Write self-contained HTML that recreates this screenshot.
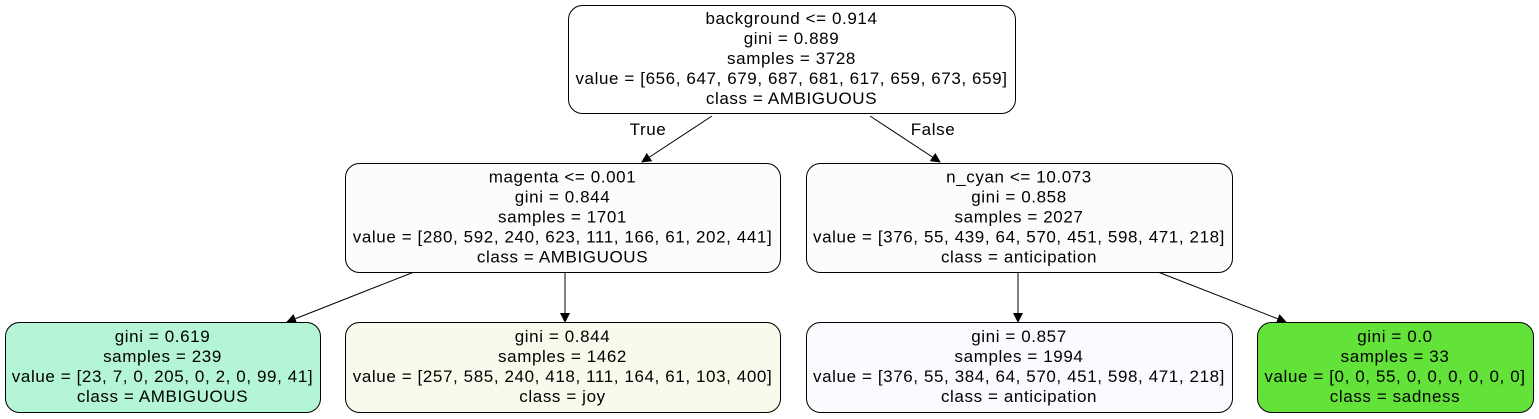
<!DOCTYPE html>
<html><head><meta charset="utf-8"><style>
html,body{margin:0;padding:0;background:#fff;}
svg{display:block;font-family:"Liberation Sans",Helvetica,Arial,sans-serif;}
svg text{letter-spacing:0.6px;}
</style></head><body>
<svg id="tree" width="1539" height="419" viewBox="0 0 1539 419">
<defs><marker id="ah" markerWidth="10" markerHeight="10" refX="9" refY="5" orient="auto" markerUnits="userSpaceOnUse"><path d="M0,0 L10,5 L0,10 z" fill="#000"/></marker></defs>
</svg>
<script>
const nodeNames=['root-node','magenta-node','n-cyan-node','leaf-ambiguous','leaf-joy','leaf-anticipation','leaf-sadness'];
const nodeBoxes=[[568,5,447,108],[345,163,435,109],[806,163,426,109],[5,322,315,90],[345,322,435,90],[806,322,426,90],[1257,322,276,90]];
const nodeFills=['#ffffff','#fbfdfc','#fcfcff','#b3f5d4','#f9faeb','#fbfbff','#63e33a'];
const nodeTexts=[
["background <= 0.914","gini = 0.889","samples = 3728","value = [656, 647, 679, 687, 681, 617, 659, 673, 659]","class = AMBIGUOUS"],
["magenta <= 0.001","gini = 0.844","samples = 1701","value = [280, 592, 240, 623, 111, 166, 61, 202, 441]","class = AMBIGUOUS"],
["n_cyan <= 10.073","gini = 0.858","samples = 2027","value = [376, 55, 439, 64, 570, 451, 598, 471, 218]","class = anticipation"],
["gini = 0.619","samples = 239","value = [23, 7, 0, 205, 0, 2, 0, 99, 41]","class = AMBIGUOUS"],
["gini = 0.844","samples = 1462","value = [257, 585, 240, 418, 111, 164, 61, 103, 400]","class = joy"],
["gini = 0.857","samples = 1994","value = [376, 55, 384, 64, 570, 451, 598, 471, 218]","class = anticipation"],
["gini = 0.0","samples = 33","value = [0, 0, 55, 0, 0, 0, 0, 0, 0]","class = sadness"]];
const edges=[[0,1,712,116,642,162],[0,2,870,116,940,162],[1,3,414,272,287,322],[1,4,565,272,565,322],[2,5,1018,272,1018,322],[2,6,1158,272,1286,322]];
const NS='http://www.w3.org/2000/svg';
const svg=document.getElementById('tree');
edges.forEach(e=>{
 const l=document.createElementNS(NS,'line');
 l.setAttribute('x1',e[2]);l.setAttribute('y1',e[3]);l.setAttribute('x2',e[4]);l.setAttribute('y2',e[5]);
 l.setAttribute('stroke','#000');l.setAttribute('stroke-width','1');l.setAttribute('marker-end','url(#ah)');
 
 
 svg.appendChild(l);
});
[["True",648,135,'true-label'],["False",933,135,'false-label']].forEach(t=>{
 const tx=document.createElementNS(NS,'text');
 tx.setAttribute('x',t[1]);tx.setAttribute('y',t[2]);tx.setAttribute('text-anchor','middle');tx.setAttribute('font-size','17');
 tx.textContent=t[0];
 
 
 svg.appendChild(tx);
});
nodeBoxes.forEach((b,i)=>{
 const g=document.createElementNS(NS,'g');
 
 
 const r=document.createElementNS(NS,'rect');
 r.setAttribute('x',b[0]+0.5);r.setAttribute('y',b[1]+0.5);r.setAttribute('width',b[2]);r.setAttribute('height',b[3]);
 r.setAttribute('rx','14');r.setAttribute('fill',nodeFills[i]);r.setAttribute('stroke','#000');
 
 
 g.appendChild(r);
 const lines=nodeTexts[i];
 const lh=20, h=lines.length*lh, y0=b[1]+(b[3]-h)/2+15;
 lines.forEach((s,j)=>{
  const t=document.createElementNS(NS,'text');
  t.setAttribute('x',b[0]+b[2]/2);t.setAttribute('y',y0+j*lh);
  t.setAttribute('text-anchor','middle');t.setAttribute('font-size','17');
  t.textContent=s;
  
  
  g.appendChild(t);
 });
 svg.appendChild(g);
});
</script>
</body></html>
